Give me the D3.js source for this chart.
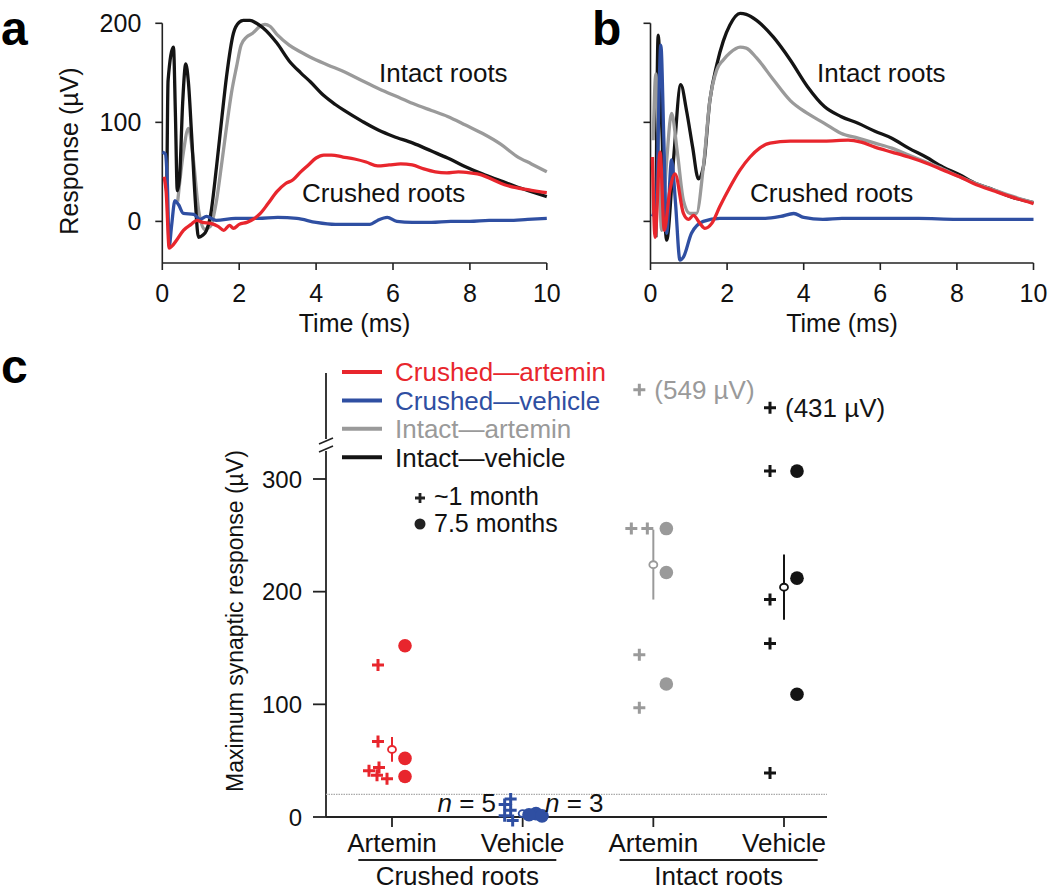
<!DOCTYPE html>
<html><head><meta charset="utf-8">
<script src="https://cdn.jsdelivr.net/npm/d3@7"></script>
<style>body{margin:0;background:#fff;} svg{display:block;font-family:"Liberation Sans",Arial,Helvetica,sans-serif;}</style>
</head><body><svg id="chart" width="1050" height="890"></svg>
<script>
// ---------------- DATA ----------------
const timeTicks = [0, 2, 4, 6, 8, 10];
const responseTicks = [0, 100, 200];
const traceLabels = ["Intact roots", "Crushed roots"];
// panel a traces: [time (ms), response (µV)]
const aIntactArtemin = [[0.4,20],[0.55,70],[0.68,94],[0.8,65],[0.95,10],[1.1,-8],[1.25,-5],[1.41,21],[1.55,60],[1.67,95],[1.8,130],[1.93,156],[2.05,178],[2.19,186],[2.35,190],[2.54,197],[2.67,199],[2.8,197],[3.0,188],[3.3,178],[3.6,171],[3.84,166],[4.3,158],[4.73,151],[5.2,142],[5.63,134],[6.1,126],[6.52,119],[7.0,112],[7.42,106],[7.9,97],[8.32,89],[8.8,78],[9.21,66],[9.6,58],[10,50]];
const aIntactVehicle = [[0.12,40],[0.15,142],[0.29,176],[0.34,110],[0.39,31],[0.45,45],[0.53,120],[0.61,159],[0.68,140],[0.76,89],[0.86,20],[0.94,-16],[1.05,-14],[1.15,-9],[1.25,5],[1.41,55],[1.55,105],[1.67,146],[1.85,190],[2.0,201],[2.11,203],[2.28,203],[2.45,200],[2.63,195],[2.98,180],[3.3,162],[3.6,150],[3.85,141],[4.2,127],[4.5,118],[4.73,112],[5.2,101],[5.63,92],[6.0,86],[6.52,79],[7.0,71],[7.42,64],[7.9,55],[8.32,48],[8.8,41],[9.21,35],[9.6,30],[10,25]];
const aCrushedVehicle = [[0,70],[0.08,68],[0.13,40],[0.18,-25],[0.24,-5],[0.33,21],[0.42,17],[0.55,8],[0.82,7],[0.98,2],[1.15,5],[1.4,1],[1.9,3],[2.5,3],[3.0,4],[3.5,3],[4.0,-1],[4.5,-3],[5.0,-3],[5.4,-3],[5.6,1],[5.85,4],[6.1,0],[6.5,-1],[7.0,-1],[7.5,0],[8.0,0],[8.5,1],[9.0,1],[9.5,2],[10,3]];
const aCrushedArtemin = [[0.05,45],[0.1,30],[0.18,-27],[0.25,-25],[0.37,-19],[0.55,-9],[0.75,-3],[0.9,1],[1.05,-1],[1.25,-2],[1.45,-5],[1.6,-9],[1.75,-4],[1.85,-7],[2.0,-3],[2.2,-1],[2.4,3],[2.55,8],[2.75,18],[2.98,30],[3.2,38],[3.4,42],[3.6,50],[3.8,57],[4.0,64],[4.2,67],[4.4,67],[4.7,65],[5.0,63],[5.3,60],[5.6,56],[5.9,57],[6.2,58],[6.5,57],[6.8,53],[7.1,50],[7.4,49],[7.7,50],[8.0,49],[8.3,47],[8.6,42],[8.9,37],[9.2,34],[9.5,32],[9.8,30],[10,29]];
// panel b traces
const bIntactVehicle = [[0.14,-16],[0.2,188],[0.3,90],[0.42,-19],[0.6,62],[0.79,138],[0.94,112],[1.1,75],[1.25,43],[1.38,55],[1.55,122],[1.73,158],[1.9,182],[2.07,198],[2.34,210],[2.5,209],[2.77,203],[3.21,186],[3.65,163],[4.1,136],[4.54,116],[4.97,106],[5.42,99],[5.86,91],[6.3,84],[6.74,74],[7.19,65],[7.63,55],[8.07,47],[8.51,38],[8.95,32],[9.4,25],[10,19]];
const bIntactArtemin = [[0.07,82],[0.14,149],[0.2,90],[0.29,-9],[0.42,60],[0.55,109],[0.7,70],[0.86,21],[1.03,8],[1.2,8],[1.38,55],[1.55,122],[1.73,153],[1.9,163],[2.07,170],[2.34,176],[2.5,175],[2.77,165],[3.21,143],[3.65,122],[4.1,109],[4.54,99],[4.97,89],[5.42,84],[5.86,79],[6.3,74],[6.74,67],[7.19,60],[7.63,53],[8.07,45],[8.51,38],[8.95,32],[9.4,26],[10,19]];
const bCrushedVehicle = [[0.05,5],[0.15,20],[0.27,178],[0.35,80],[0.42,-12],[0.55,62],[0.65,20],[0.77,-39],[0.86,-36],[1.07,-12],[1.38,0],[1.81,3],[2.5,3],[3.0,3],[3.4,5],[3.74,8],[4.0,4],[4.5,2],[5.0,3],[6.0,3],[7.0,3],[8.0,2],[9.0,2],[10,2]];
const bCrushedArtemin = [[0.05,65],[0.12,-16],[0.25,70],[0.36,-9],[0.5,30],[0.64,48],[0.86,8],[0.99,2],[1.12,6],[1.29,-2],[1.42,-7],[1.6,-2],[1.81,15],[2.08,35],[2.34,52],[2.6,65],[2.85,74],[3.12,79],[3.65,81],[4.54,81],[5.16,82],[5.5,80],[5.86,75],[6.3,70],[6.74,65],[7.19,59],[7.63,52],[8.07,45],[8.51,37],[8.95,31],[9.4,25],[10,18]];

// panel c
const legendLabels = ["Crushed\u2014artemin", "Crushed\u2014vehicle", "Intact\u2014artemin", "Intact\u2014vehicle"];
const categories = ["Artemin", "Vehicle", "Artemin", "Vehicle"];
const rootGroups = ["Crushed roots", "Intact roots"];
const markerLegend = ["~1 month", "7.5 months"];
const month1Values = [[135, 67, 44, 41, 37, 34], [16, 11, 6, 1, -3], [549, 256, 256, 144, 97], [431, 307, 193, 154, 39]];
const month75Values = [[152, 52, 36], [3, 2, 1], [256, 217, 118], [307, 212, 109]];
const meanValues = [60, 3, 224, 204];
const semValues = [11, 1.5, 31, 29];
const nCounts = [5, 3];
const synapticTicks = [0, 100, 200, 300];
const thresholdValue = 20;
const breakValue = 330;

// ---------------- STYLE ----------------
const colors = ["#e8262d", "#2f4fa2", "#9a9a9a", "#141414"];
const font = 25;
const svg = d3.select("#chart");

// ---------------- PANELS a & b ----------------
function tracePanel(x0, x1, showYLabels, traces, order, textPos) {
  const x = d3.scaleLinear().domain([0, 10]).range([x0, x1]);
  const y = d3.scaleLinear().domain([-42, 200]).range([263, 23.3]);
  const g = svg.append("g");
  g.append("line").attr("x1", x0).attr("x2", x0).attr("y1", y(200)).attr("y2", 263).attr("stroke", "#222").attr("stroke-width", 1.6);
  g.append("line").attr("x1", x0).attr("x2", x1).attr("y1", 263).attr("y2", 263).attr("stroke", "#222").attr("stroke-width", 1.6);
  g.selectAll(".yt").data(responseTicks).join("line").attr("x1", x0 - 7).attr("x2", x0).attr("y1", d => y(d)).attr("y2", d => y(d)).attr("stroke", "#222").attr("stroke-width", 1.6);
  g.selectAll(".xt").data(timeTicks).join("line").attr("x1", d => x(d)).attr("x2", d => x(d)).attr("y1", 263).attr("y2", 270).attr("stroke", "#222").attr("stroke-width", 1.6);
  g.selectAll(".xl").data(timeTicks).join("text").attr("x", d => x(d)).attr("y", 302).attr("text-anchor", "middle").attr("font-size", font).attr("fill", "#111").text(d => d);
  if (showYLabels) {
    g.selectAll(".yl").data(responseTicks).join("text").attr("x", x0 - 21).attr("y", d => y(d)).attr("dy", "0.36em").attr("text-anchor", "end").attr("font-size", font).attr("fill", "#111").text(d => d);
    g.append("text").attr("transform", `translate(${x0 - 84},151) rotate(-90)`).attr("text-anchor", "middle").attr("font-size", font).attr("fill", "#111").text("Response (\u00b5V)");
  }
  g.append("text").attr("x", (x0 + x1) / 2).attr("y", 332).attr("text-anchor", "middle").attr("font-size", font).attr("fill", "#111").text("Time (ms)");
  const line = d3.line().x(d => x(d[0])).y(d => y(d[1])).curve(d3.curveMonotoneX);
  order.forEach(i => {
    g.append("path").attr("d", line(traces[i])).attr("fill", "none").attr("stroke", colors[i]).attr("stroke-width", 3.3).attr("stroke-linejoin", "round");
  });
  g.append("text").attr("x", textPos[0]).attr("y", 82).attr("font-size", 26).attr("fill", "#111").text(traceLabels[0]);
  g.append("text").attr("x", textPos[1]).attr("y", 202).attr("font-size", 26).attr("fill", "#111").text(traceLabels[1]);
}
// order of trace arrays: [crushed artemin, crushed vehicle, intact artemin, intact vehicle]
tracePanel(162.3, 546.8, true, [aCrushedArtemin, aCrushedVehicle, aIntactArtemin, aIntactVehicle], [2, 3, 1, 0], [379, 302]);
tracePanel(650.5, 1033.5, false, [bCrushedArtemin, bCrushedVehicle, bIntactArtemin, bIntactVehicle], [3, 2, 1, 0], [817, 750]);

svg.append("text").attr("x", 1).attr("y", 45).attr("font-size", 48).attr("font-weight", "bold").text("a");
svg.append("text").attr("x", 592).attr("y", 45).attr("font-size", 48).attr("font-weight", "bold").text("b");
svg.append("text").attr("x", 1).attr("y", 383).attr("font-size", 48).attr("font-weight", "bold").text("c");

// ---------------- PANEL c ----------------
const gc = svg.append("g");
const xc = d3.scalePoint().domain(d3.range(categories.length)).range([392, 784]);
const yLow = d3.scaleLinear().domain([0, 300]).range([817, 479]);
const yUp = d3.scaleLinear().domain([400, 600]).range([412.5, 382]);
const yPos = v => v > breakValue ? yUp(v) : yLow(v);
const axL = 326, axR = 827;

gc.append("line").attr("x1", axL).attr("x2", axL).attr("y1", 373).attr("y2", 439).attr("stroke", "#222").attr("stroke-width", 1.8);
gc.append("line").attr("x1", axL).attr("x2", axL).attr("y1", 451).attr("y2", yLow(0)).attr("stroke", "#222").attr("stroke-width", 1.8);
[441, 449].forEach(yy => gc.append("line").attr("x1", axL - 7).attr("x2", axL + 7).attr("y1", yy + 3).attr("y2", yy - 3).attr("stroke", "#222").attr("stroke-width", 1.6));
gc.append("line").attr("x1", axL).attr("x2", axR).attr("y1", yLow(0)).attr("y2", yLow(0)).attr("stroke", "#222").attr("stroke-width", 1.8);
gc.append("line").attr("x1", axL).attr("x2", axR).attr("y1", yLow(thresholdValue)).attr("y2", yLow(thresholdValue)).attr("stroke", "#aaa").attr("stroke-width", 1.2).attr("stroke-dasharray", "1.5,1");

gc.selectAll(".ct").data(synapticTicks).join("line").attr("x1", axL - 13).attr("x2", axL).attr("y1", d => yLow(d)).attr("y2", d => yLow(d)).attr("stroke", "#222").attr("stroke-width", 1.8);
gc.selectAll(".cl").data(synapticTicks).join("text").attr("x", axL - 24).attr("y", d => yLow(d)).attr("dy", "0.36em").attr("text-anchor", "end").attr("font-size", 24).attr("fill", "#111").text(d => d);
gc.append("text").attr("transform", "translate(243,621) rotate(-90)").attr("text-anchor", "middle").attr("font-size", 23).attr("fill", "#111").text("Maximum synaptic response (\u00b5V)");

gc.selectAll(".xt").data(categories).join("line").attr("x1", (d, i) => xc(i)).attr("x2", (d, i) => xc(i)).attr("y1", yLow(0)).attr("y2", yLow(0) + 10).attr("stroke", "#222").attr("stroke-width", 1.8);
gc.selectAll(".xl").data(categories).join("text").attr("x", (d, i) => xc(i)).attr("y", 852).attr("text-anchor", "middle").attr("font-size", 26).attr("fill", "#111").text(d => d);
rootGroups.forEach((r, k) => {
  const a = xc(2 * k), b = xc(2 * k + 1), cx = (a + b) / 2;
  gc.append("line").attr("x1", cx - 99).attr("x2", cx + 99).attr("y1", 860).attr("y2", 860).attr("stroke", "#222").attr("stroke-width", 1.8);
  gc.append("text").attr("x", cx).attr("y", 885).attr("text-anchor", "middle").attr("font-size", 26).attr("fill", "#111").text(r);
});

// legend
legendLabels.forEach((l, i) => {
  const yy = 372 + i * 28.4;
  gc.append("line").attr("x1", 342).attr("x2", 382).attr("y1", yy).attr("y2", yy).attr("stroke", colors[i]).attr("stroke-width", 4);
  gc.append("text").attr("x", 395).attr("y", yy).attr("dy", "0.36em").attr("font-size", 26).attr("fill", colors[i]).text(l);
});
const plusPath = s => `M${-s},0H${s}M0,${-s}V${s}`;
gc.append("path").attr("transform", "translate(420,498)").attr("d", plusPath(5)).attr("stroke", "#222").attr("stroke-width", 2.8);
gc.append("circle").attr("cx", 420).attr("cy", 524).attr("r", 5.5).attr("fill", "#222");
gc.append("text").attr("x", 434).attr("y", 496).attr("dy", "0.36em").attr("font-size", 25).attr("fill", "#111").text(markerLegend[0]);
gc.append("text").attr("x", 434).attr("y", 523).attr("dy", "0.36em").attr("font-size", 25).attr("fill", "#111").text(markerLegend[1]);

// markers: dodge overlapping markers sideways (required gap shrinks with vertical distance)
function dodge(list, spacing, thr) {
  const sorted = list.slice().sort((a, b) => a.y - b.y);
  const placed = [];
  const need = dy => spacing * (1 - dy / thr);
  sorted.forEach(n => {
    for (let k = 0; k < 80; k++) {
      const c = k === 0 ? 0 : (k % 2 ? -Math.ceil(k / 2) : k / 2);
      const x = n.bx + c;
      const ok = placed.every(p => { const dy = Math.abs(p.y - n.y); return dy >= thr || Math.abs(p.x - x) >= need(dy); });
      if (ok) { n.x = x; break; }
    }
    placed.push(n);
  });
  let chain = [];
  const flush = () => {
    if (chain.length > 1) { const sh = d3.mean(chain, d => d.bx - d.x); chain.forEach(d => d.x += sh); }
    chain = [];
  };
  sorted.forEach((n, i) => {
    if (i > 0 && Math.abs(n.y - sorted[i - 1].y) >= thr) flush();
    chain.push(n);
  });
  flush();
}
const nodes = [];
categories.forEach((c, gi) => {
  const pl = month1Values[gi].map(v => ({ g: gi, v, kind: "plus", bx: xc(gi) - 14, y: yPos(v) }));
  const dt = month75Values[gi].map(v => ({ g: gi, v, kind: "dot", bx: xc(gi) + 13, y: yPos(v) }));
  dodge(pl, 16, 9);
  dodge(dt, 8, 9);
  nodes.push(...pl, ...dt);
});

meanValues.forEach((m, i) => {
  gc.append("line").attr("x1", xc(i)).attr("x2", xc(i)).attr("y1", yLow(m + semValues[i])).attr("y2", yLow(m - semValues[i])).attr("stroke", colors[i]).attr("stroke-width", 2);
  gc.append("ellipse").attr("cx", xc(i)).attr("cy", yLow(m)).attr("rx", 4).attr("ry", 3.4).attr("fill", "#fff").attr("stroke", colors[i]).attr("stroke-width", 1.8);
});

nodes.filter(n => n.kind === "dot").forEach(n => {
  gc.append("circle").attr("cx", n.x).attr("cy", n.y).attr("r", 6.8).attr("fill", colors[n.g]);
});
nodes.filter(n => n.kind === "plus").forEach(n => {
  gc.append("path").attr("transform", `translate(${n.x},${n.y})`).attr("d", plusPath(6)).attr("stroke", colors[n.g]).attr("stroke-width", 3).attr("fill", "none");
  if (n.v > breakValue) {
    gc.append("text").attr("x", n.x + 15).attr("y", n.y).attr("dy", "0.36em").attr("font-size", 26).attr("fill", colors[n.g]).text(`(${n.v} \u00b5V)`);
  }
});

const nl = [{ x: 496, anchor: "end", c: nCounts[0] }, { x: 545, anchor: "start", c: nCounts[1] }];
nl.forEach(d => {
  const t = gc.append("text").attr("x", d.x).attr("y", 812).attr("text-anchor", d.anchor).attr("font-size", 26).attr("fill", "#111");
  t.append("tspan").attr("font-style", "italic").text("n");
  t.append("tspan").text(` = ${d.c}`);
});
</script></body></html>
